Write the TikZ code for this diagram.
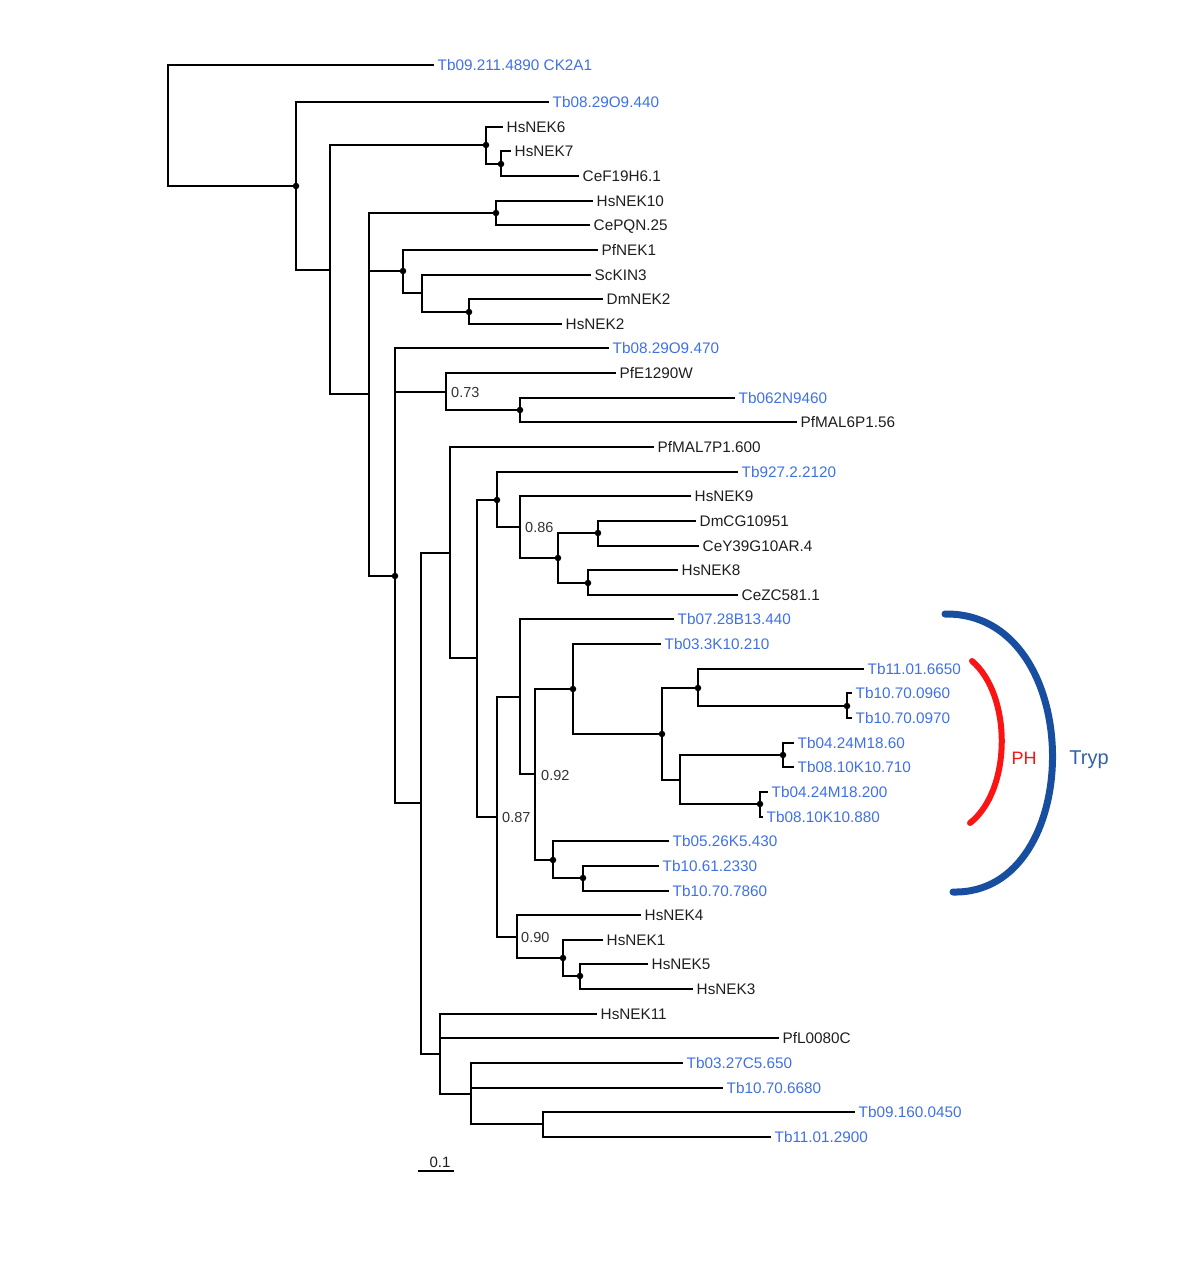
\documentclass[tikz,border=0pt]{standalone}
\usepackage{fontspec}
\setmainfont{Liberation Sans}
\definecolor{tbblue}{RGB}{64,112,230}
\definecolor{leafgray}{RGB}{30,30,30}
\definecolor{trypblue}{RGB}{24,78,160}
\definecolor{tryptext}{RGB}{50,96,170}
\definecolor{phred}{RGB}{250,20,20}
\begin{document}
\begin{tikzpicture}[x=1pt,y=-1pt,
  br/.style={line width=2pt, draw=black, line cap=rect},
  leaf/.style={anchor=west, inner xsep=4.5pt, inner ysep=0pt, text height=10.9pt, text depth=0pt,
    font=\fontsize{15.3}{18}\selectfont, text=leafgray},
  tb/.style={leaf, text=tbblue},
  nodedot/.style={circle, fill=black, inner sep=0pt, minimum size=6.5pt},
  supp/.style={anchor=west, inner sep=0pt, text height=10.4pt, text depth=0pt,
    font=\fontsize{14.5}{17}\selectfont, text={rgb,255:red,50;green,50;blue,50}},
  arcline/.style={line width=7pt, line cap=round}
]
\useasboundingbox (0,0) rectangle (1200,1264);

% ---------- leaves ----------
\node[tb]   (L1)  at (433,65)   {Tb09.211.4890 CK2A1};
\node[tb]   (L2)  at (548,102)  {Tb08.29O9.440};
\node[leaf] (L3)  at (502,127)  {HsNEK6};
\node[leaf] (L4)  at (510,151)  {HsNEK7};
\node[leaf] (L5)  at (578,176)  {CeF19H6.1};
\node[leaf] (L6)  at (592,201)  {HsNEK10};
\node[leaf] (L7)  at (589,225)  {CePQN.25};
\node[leaf] (L8)  at (597,250)  {PfNEK1};
\node[leaf] (L9)  at (590,275)  {ScKIN3};
\node[leaf] (L10) at (602,299)  {DmNEK2};
\node[leaf] (L11) at (561,324)  {HsNEK2};
\node[tb]   (L12) at (608,348)  {Tb08.29O9.470};
\node[leaf] (L13) at (615,373)  {PfE1290W};
\node[tb]   (L14) at (734,398)  {Tb062N9460};
\node[leaf] (L15) at (796,422)  {PfMAL6P1.56};
\node[leaf] (L16) at (653,447)  {PfMAL7P1.600};
\node[tb]   (L17) at (737,472)  {Tb927.2.2120};
\node[leaf] (L18) at (690,496)  {HsNEK9};
\node[leaf] (L19) at (695,521)  {DmCG10951};
\node[leaf] (L20) at (698,546)  {CeY39G10AR.4};
\node[leaf] (L21) at (677,570)  {HsNEK8};
\node[leaf] (L22) at (737,595)  {CeZC581.1};
\node[tb]   (L23) at (673,619)  {Tb07.28B13.440};
\node[tb]   (L24) at (660,644)  {Tb03.3K10.210};
\node[tb]   (L25) at (863,669)  {Tb11.01.6650};
\node[tb]   (L26) at (851,693)  {Tb10.70.0960};
\node[tb]   (L27) at (851,718)  {Tb10.70.0970};
\node[tb]   (L28) at (793,743)  {Tb04.24M18.60};
\node[tb]   (L29) at (793,767)  {Tb08.10K10.710};
\node[tb]   (L30) at (767,792)  {Tb04.24M18.200};
\node[tb]   (L31) at (762,817)  {Tb08.10K10.880};
\node[tb]   (L32) at (668,841)  {Tb05.26K5.430};
\node[tb]   (L33) at (658,866)  {Tb10.61.2330};
\node[tb]   (L34) at (668,891)  {Tb10.70.7860};
\node[leaf] (L35) at (640,915)  {HsNEK4};
\node[leaf] (L36) at (602,940)  {HsNEK1};
\node[leaf] (L37) at (647,964)  {HsNEK5};
\node[leaf] (L38) at (692,989)  {HsNEK3};
\node[leaf] (L39) at (596,1014) {HsNEK11};
\node[leaf] (L40) at (778,1038) {PfL0080C};
\node[tb]   (L41) at (682,1063) {Tb03.27C5.650};
\node[tb]   (L42) at (722,1088) {Tb10.70.6680};
\node[tb]   (L43) at (854,1112) {Tb09.160.0450};
\node[tb]   (L44) at (770,1137) {Tb11.01.2900};

% ---------- internal nodes ----------
\coordinate (R0) at (168,125);
\coordinate (A)  at (296,186);
\coordinate (B)  at (330,270);
\coordinate (C)  at (486,145);
\coordinate (C2) at (501,164);
\coordinate (D)  at (369,394);
\coordinate (D1) at (496,213);
\coordinate (D2) at (403,271);
\coordinate (D3) at (422,293);
\coordinate (D4) at (469,312);
\coordinate (E)  at (395,576);
\coordinate (F)  at (446,392);
\coordinate (G)  at (520,410);
\coordinate (H)  at (421,803);
\coordinate (I)  at (450,553);
\coordinate (J)  at (477,658);
\coordinate (K)  at (497,500);
\coordinate (L)  at (520,527);
\coordinate (M)  at (558,558);
\coordinate (N)  at (598,533);
\coordinate (O)  at (588,583);
\coordinate (P)  at (497,817);
\coordinate (Q)  at (520,697);
\coordinate (T)  at (535,774);
\coordinate (U)  at (573,689);
\coordinate (V)  at (662,734);
\coordinate (W)  at (698,688);
\coordinate (Y)  at (847,706);
\coordinate (X)  at (680,780);
\coordinate (Z)  at (783,755);
\coordinate (AA) at (760,804);
\coordinate (BB) at (553,860);
\coordinate (CC) at (583,878);
\coordinate (RR) at (517,937);
\coordinate (S)  at (563,958);
\coordinate (S2) at (580,976);
\coordinate (DD) at (440,1054);
\coordinate (EE) at (471,1094);
\coordinate (FF) at (543,1124);

% ---------- branches ----------
\draw[br] (R0) |- (L1.west);  \draw[br] (R0) |- (A);
\draw[br] (A) |- (L2.west);   \draw[br] (A) |- (B);
\draw[br] (B) |- (C);         \draw[br] (B) |- (D);
\draw[br] (C) |- (L3.west);   \draw[br] (C) |- (C2);
\draw[br] (C2) |- (L4.west);  \draw[br] (C2) |- (L5.west);
\draw[br] (D) |- (D1);        \draw[br] (D) |- (D2);   \draw[br] (D) |- (E);
\draw[br] (D1) |- (L6.west);  \draw[br] (D1) |- (L7.west);
\draw[br] (D2) |- (L8.west);  \draw[br] (D2) |- (D3);
\draw[br] (D3) |- (L9.west);  \draw[br] (D3) |- (D4);
\draw[br] (D4) |- (L10.west); \draw[br] (D4) |- (L11.west);
\draw[br] (E) |- (L12.west);  \draw[br] (E) |- (F);    \draw[br] (E) |- (H);
\draw[br] (F) |- (L13.west);  \draw[br] (F) |- (G);
\draw[br] (G) |- (L14.west);  \draw[br] (G) |- (L15.west);
\draw[br] (H) |- (I);         \draw[br] (H) |- (DD);
\draw[br] (I) |- (L16.west);  \draw[br] (I) |- (J);
\draw[br] (J) |- (K);         \draw[br] (J) |- (P);
\draw[br] (K) |- (L17.west);  \draw[br] (K) |- (L);
\draw[br] (L) |- (L18.west);  \draw[br] (L) |- (M);
\draw[br] (M) |- (N);         \draw[br] (M) |- (O);
\draw[br] (N) |- (L19.west);  \draw[br] (N) |- (L20.west);
\draw[br] (O) |- (L21.west);  \draw[br] (O) |- (L22.west);
\draw[br] (P) |- (Q);         \draw[br] (P) |- (RR);
\draw[br] (Q) |- (L23.west);  \draw[br] (Q) |- (T);
\draw[br] (T) |- (U);         \draw[br] (T) |- (BB);
\draw[br] (U) |- (L24.west);  \draw[br] (U) |- (V);
\draw[br] (V) |- (W);         \draw[br] (V) |- (X);
\draw[br] (W) |- (L25.west);  \draw[br] (W) |- (Y);
\draw[br] (Y) |- (L26.west);  \draw[br] (Y) |- (L27.west);
\draw[br] (X) |- (Z);         \draw[br] (X) |- (AA);
\draw[br] (Z) |- (L28.west);  \draw[br] (Z) |- (L29.west);
\draw[br] (AA) |- (L30.west); \draw[br] (AA) |- (L31.west);
\draw[br] (BB) |- (L32.west); \draw[br] (BB) |- (CC);
\draw[br] (CC) |- (L33.west); \draw[br] (CC) |- (L34.west);
\draw[br] (RR) |- (L35.west); \draw[br] (RR) |- (S);
\draw[br] (S) |- (L36.west);  \draw[br] (S) |- (S2);
\draw[br] (S2) |- (L37.west); \draw[br] (S2) |- (L38.west);
\draw[br] (DD) |- (L39.west); \draw[br] (DD) |- (L40.west); \draw[br] (DD) |- (EE);
\draw[br] (EE) |- (L41.west); \draw[br] (EE) |- (L42.west); \draw[br] (EE) |- (FF);
\draw[br] (FF) |- (L43.west); \draw[br] (FF) |- (L44.west);

% ---------- node dots ----------
\foreach \n in {A,C,C2,D1,D2,D4,E,G,K,M,N,O,U,V,W,Y,Z,AA,BB,CC,S,S2}
  \node[nodedot] (dot\n) at (\n) {};

% ---------- support values ----------
\node[supp] (s073) at (451,392) {0.73};
\node[supp] (s086) at (525,527) {0.86};
\node[supp] (s087) at (502,817) {0.87};
\node[supp] (s092) at (541,775) {0.92};
\node[supp] (s090) at (521,937) {0.90};

% ---------- scale bar ----------
\coordinate (sb1) at (418,1171);
\coordinate (sb2) at (454,1171);
\draw[line width=2pt] (sb1) -- (sb2);
\node[anchor=south, inner sep=0pt, text height=10.7pt, text depth=0pt,
      font=\fontsize{15}{18}\selectfont, text=leafgray] (sblab) at (440,1168) {0.1};

% ---------- clade brackets ----------
\draw[arcline, draw=trypblue] (945,614) .. controls (1087,612) and (1087,895) .. (953,892);
\draw[arcline, draw=phred, line width=6pt] (972,661) .. controls (1012,695) and (1012,790) .. (970,823);
\node[anchor=base, inner sep=0pt, font=\fontsize{18}{21}\selectfont, text=phred] (ph) at (1024,764) {PH};
\node[anchor=base, inner sep=0pt, font=\fontsize{20}{24}\selectfont, text=tryptext] (tryp) at (1089,764) {Tryp};
\end{tikzpicture}
\end{document}
